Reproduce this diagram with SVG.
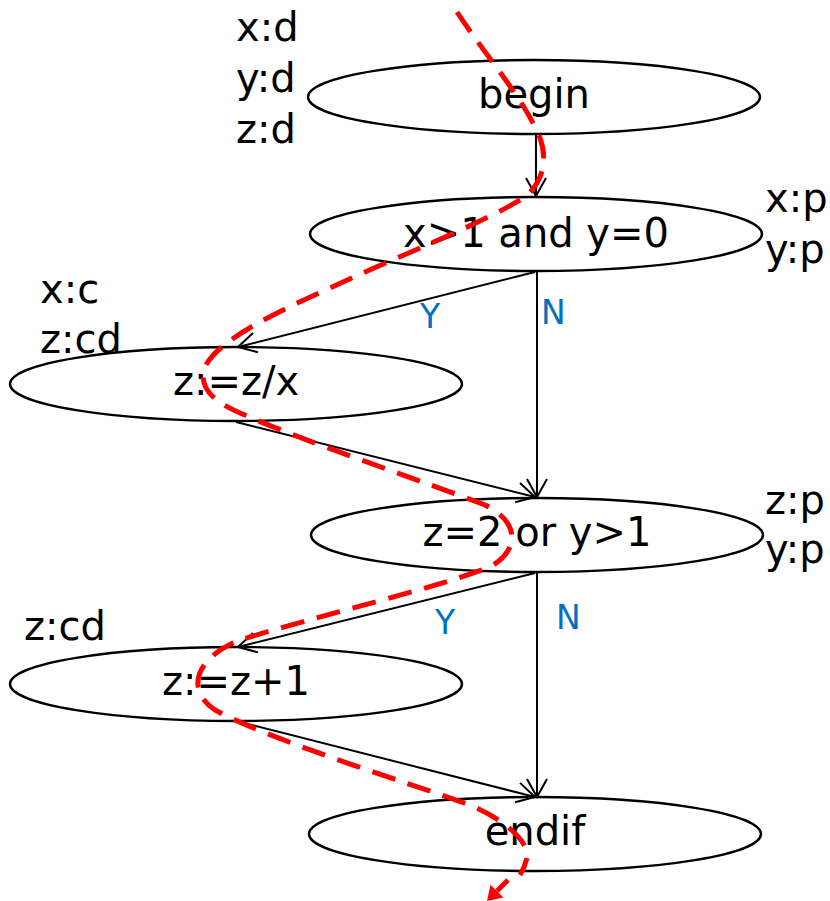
<svg xmlns="http://www.w3.org/2000/svg" width="830" height="901" viewBox="0 0 830 901">
<style>
.node{fill:#fff;stroke:#000;stroke-width:2.4}
.lbl{font-family:"DejaVu Sans",sans-serif;font-size:40px;fill:#000;text-anchor:middle}
.side{font-family:"DejaVu Sans",sans-serif;font-size:40px;fill:#000}
.yn{font-family:"DejaVu Sans",sans-serif;font-size:33px;fill:#0070C0}
.edge{stroke:#000;stroke-width:2;fill:none;marker-end:url(#open)}
.flow{stroke:#ff0000;stroke-width:5;fill:none;stroke-dasharray:24 13}
</style>
<defs>
<marker id="open" markerUnits="userSpaceOnUse" viewBox="-20 -12 22 24" refX="0" refY="0" markerWidth="22" markerHeight="24" orient="auto">
<path d="M-18,-10 L0,0 L-18,10" fill="none" stroke="#000" stroke-width="2"/>
</marker>
</defs>
<g id="n_begin"><ellipse class="node" cx="534" cy="97" rx="226" ry="37"/><text class="lbl" x="534" y="108">begin</text></g>
<g id="n_cond1"><ellipse class="node" cx="536" cy="234" rx="226" ry="37"/><text class="lbl" x="536" y="247">x&gt;1 and y=0</text></g>
<g id="n_zdiv"><ellipse class="node" cx="236" cy="384" rx="226" ry="37"/><text class="lbl" x="236" y="395">z:=z/x</text></g>
<g id="n_cond2"><ellipse class="node" cx="537" cy="535" rx="226" ry="37"/><text class="lbl" x="537" y="546">z=2 or y&gt;1</text></g>
<g id="n_zinc"><ellipse class="node" cx="236" cy="684" rx="226" ry="37"/><text class="lbl" x="236" y="695">z:=z+1</text></g>
<g id="n_endif"><ellipse class="node" cx="535" cy="834" rx="226" ry="37"/><text class="lbl" x="535" y="845">endif</text></g>
<g id="annotations">
<text class="side" x="236" y="41">x:d</text>
<text class="side" x="236" y="92">y:d</text>
<text class="side" x="236" y="143">z:d</text>
<text class="side" x="765" y="212">x:p</text>
<text class="side" x="765" y="263">y:p</text>
<text class="side" x="40" y="303">x:c</text>
<text class="side" x="40" y="353">z:cd</text>
<text class="side" x="765" y="514">z:p</text>
<text class="side" x="765" y="563">y:p</text>
<text class="side" x="24" y="640">z:cd</text>
</g>
<g id="connectors">
<line class="edge" x1="536" y1="134" x2="536" y2="196"/>
<line class="edge" x1="535" y1="272" x2="238" y2="347"/>
<line class="edge" x1="537" y1="272" x2="537" y2="497"/>
<line class="edge" x1="236" y1="422" x2="535" y2="497"/>
<line class="edge" x1="535" y1="573" x2="238" y2="647"/>
<line class="edge" x1="537" y1="573" x2="537" y2="797"/>
<line class="edge" x1="240" y1="722" x2="535" y2="797"/>
<text class="yn" x="420" y="328">Y</text>
<text class="yn" x="541" y="324">N</text>
<text class="yn" x="435" y="634">Y</text>
<text class="yn" x="556" y="629">N</text>
<path class="flow" d="M457,12 C485,55 525,100 540,138 C548,160 543,182 525,197 C480,225 400,255 330,288 C270,315 220,340 206,365 C197,385 210,400 240,413 C300,440 420,480 485,505 C520,522 520,550 490,567 C430,590 320,615 240,640 C195,658 185,690 215,710 C270,740 400,780 470,805 C510,822 530,845 527,858 C525,866 523,870 520,875"/>
<line x1="508" y1="880" x2="497" y2="891" stroke="#ff0000" stroke-width="5"/>
<polygon points="487,901 490.5,884.7 503.3,897.5" fill="#ff0000"/>
</g>
</svg>
